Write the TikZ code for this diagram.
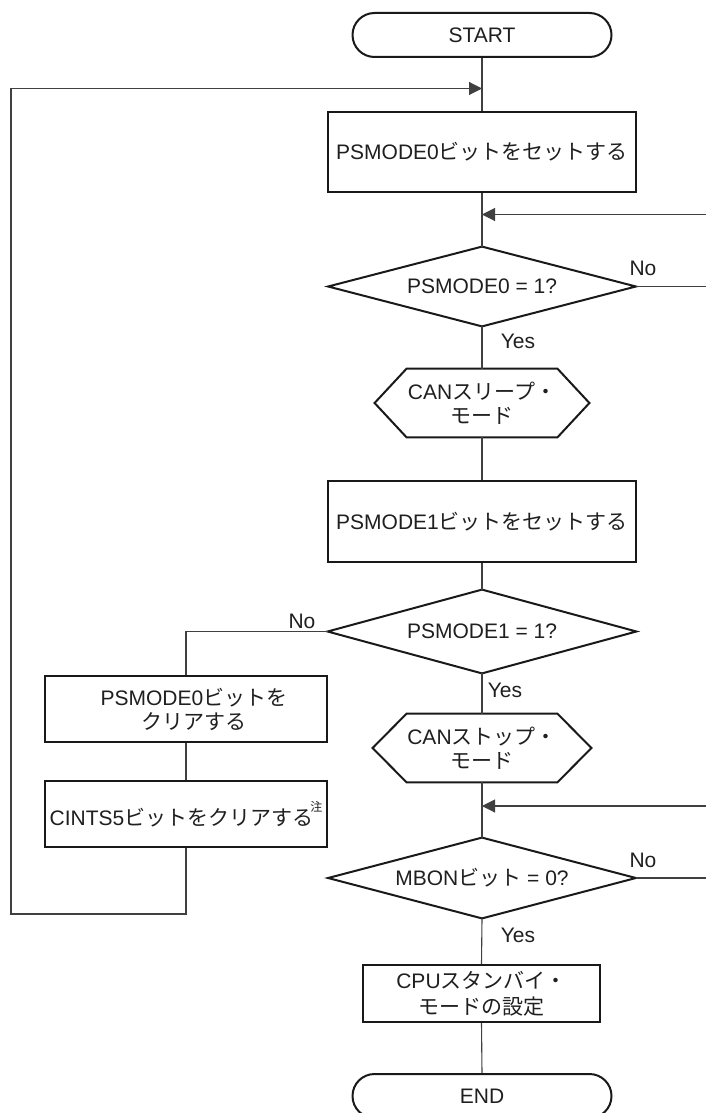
\documentclass[tikz,border=0pt]{standalone}
\usepackage{fontspec}
\setmainfont{Liberation Sans}
\newfontfamily\jp{Noto Sans CJK JP}
\usetikzlibrary{shapes.misc,arrows.meta,calc}
\begin{document}
\begin{tikzpicture}[x=0.5pt,y=-0.5pt,
  font=\fontsize{10.5}{12}\selectfont,
  every node/.style={text=black!88},
  proc/.style={draw=black!90, line width=1pt, rectangle, inner sep=0pt, align=center},
  term/.style={draw=black!90, line width=1pt, rounded rectangle, minimum width=129.5pt, minimum height=22pt, inner sep=0pt},
  shapebox/.style={rectangle, inner sep=0pt, align=center},
  shapeline/.style={draw=black!90, line width=1pt, line join=miter},
  conn/.style={line width=0.55pt, draw=black!75},
  arr/.style={conn, -{Triangle[length=6.5pt,width=6.5pt]}},
  lbl/.style={inner sep=0pt}]
\useasboundingbox (0,0) rectangle (706,1113);

% nodes
\node[term] (start) at (482,35) {START};
\node[proc, minimum width=154pt, minimum height=40pt] (b1) at (482,152) {PSMODE0{\jp ビットをセットする}};
\node[shapebox, minimum width=153.5pt, minimum height=39.5pt] (d1) at (482,286.5) {PSMODE0 = 1?};
\draw[shapeline] (d1.north) -- (d1.east) -- (d1.south) -- (d1.west) -- cycle;
\node[shapebox, minimum width=107pt, minimum height=34pt] (h1) at (482,403) {CAN{\jp スリープ・}\\{\jp モード}};
\draw[shapeline] (h1.west) -- ([xshift=16pt]h1.north west) -- ([xshift=-16pt]h1.north east) -- (h1.east) -- ([xshift=-16pt]h1.south east) -- ([xshift=16pt]h1.south west) -- cycle;
\node[proc, minimum width=154pt, minimum height=40.5pt] (b2) at (482,521.5) {PSMODE1{\jp ビットをセットする}};
\node[shapebox, minimum width=154pt, minimum height=41.5pt] (d2) at (482,631.5) {PSMODE1 = 1?};
\draw[shapeline] (d2.north) -- (d2.east) -- (d2.south) -- (d2.west) -- cycle;
\node[proc, minimum width=141pt, minimum height=33pt] (bl1) at (186,709) {\hspace*{8pt}PSMODE0{\jp ビットを}\\\hspace*{8pt}{\jp クリアする}};
\node[proc, minimum width=141pt, minimum height=33pt] (bl2) at (186,814) {CINTS5{\jp ビットをクリアする}\kern-1.5pt\raisebox{1.25ex}{\fontsize{6}{6}\selectfont\jp 注}};
\node[shapebox, minimum width=109pt, minimum height=34pt] (h2) at (482,748) {CAN{\jp ストップ・}\\{\jp モード}};
\draw[shapeline] (h2.west) -- ([xshift=17pt]h2.north west) -- ([xshift=-17pt]h2.north east) -- (h2.east) -- ([xshift=-17pt]h2.south east) -- ([xshift=17pt]h2.south west) -- cycle;
\node[shapebox, minimum width=153.5pt, minimum height=40pt] (d3) at (482,878) {MBON{\jp ビット} = 0?};
\draw[shapeline] (d3.north) -- (d3.east) -- (d3.south) -- (d3.west) -- cycle;
\node[proc, minimum width=118.5pt, minimum height=28.5pt, font=\fontsize{10.5}{13}\selectfont] (b3) at (481.5,993.5) {CPU{\jp スタンバイ・}\\{\jp モードの設定}};
\node[term] (end) at (482,1096) {END};

% coordinates for free ends
\coordinate (lp1) at (11,914);
\coordinate (lp2) at (11,88.5);
\coordinate (m1) at (482,88.5);
\coordinate (r1) at (706,214.5);
\coordinate (m2) at (482,214.5);
\coordinate (r2) at (706,286.5);
\coordinate (r3) at (706,806);
\coordinate (m3) at (482,806);
\coordinate (r4) at (706,878);

% connectors
\draw[conn] (start.south) -- (b1.north);
\draw[conn] (b1.south) -- (d1.north);
\draw[conn] (d1.south) -- (h1.north);
\draw[conn] (h1.south) -- (b2.north);
\draw[conn] (b2.south) -- (d2.north);
\draw[conn] (d2.south) -- (h2.north);
\draw[conn] (h2.south) -- (d3.north);
\draw[conn] (d3.south) -- (b3.north);
\draw[conn] (b3.south) -- (end.north);
\draw[conn] (d2.west) -| (bl1.north);
\draw[conn] (bl1.south) -- (bl2.north);
\draw[arr] (bl2.south) |- (lp1) -- (lp2) -- (m1);
\draw[arr] (r1) -- (m2);
\draw[conn] (d1.east) -- (r2);
\draw[arr] (r3) -- (m3);
\draw[conn] (d3.east) -- (r4);

% labels
\node[lbl] at (643,268) {No};
\node[lbl] at (518,341) {Yes};
\node[lbl] at (302,621) {No};
\node[lbl] at (505,690) {Yes};
\node[lbl] at (643,860) {No};
\node[lbl] at (518,935) {Yes};
\end{tikzpicture}
\end{document}
